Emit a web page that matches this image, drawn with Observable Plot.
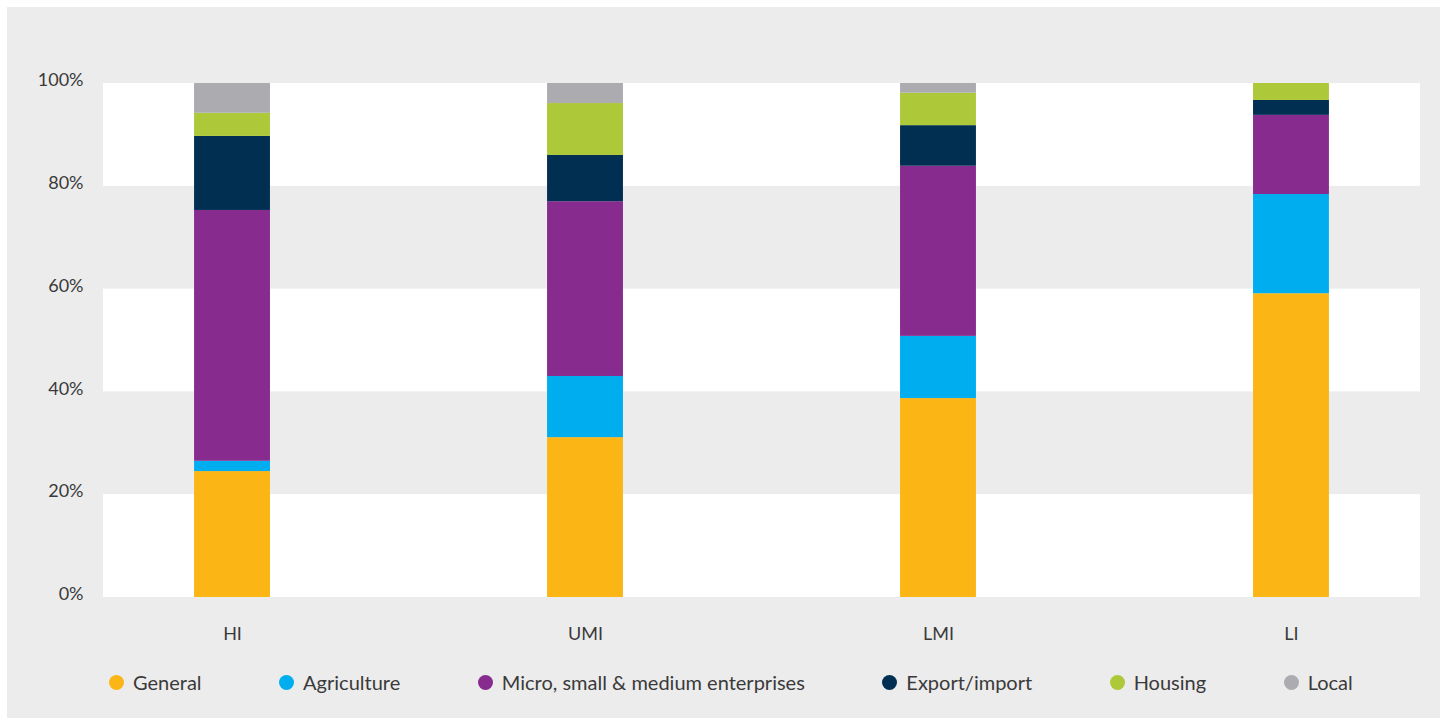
<!DOCTYPE html>
<html><head><meta charset="utf-8">
<script src="https://cdn.jsdelivr.net/npm/d3@7"></script>
<script src="https://cdn.jsdelivr.net/npm/@observablehq/plot@0.6"></script>
<style>
body{margin:0;background:#fff;font-family:Lato,"Open Sans",sans-serif;}
#frame{position:absolute;left:7px;top:7px;width:1433px;height:711px;background:#ececec;overflow:hidden;}
#chart{position:absolute;left:0;top:0;}
#legend{position:absolute;left:102px;top:663px;display:flex;align-items:center;gap:77.5px;color:#3a3a3a;font-size:20px;white-space:nowrap;}
.item{display:flex;align-items:center;}
.dot{width:15px;height:15px;border-radius:50%;margin-right:9px;}
</style></head>
<body>
<div id="frame"><div id="chart"></div><div id="legend"></div></div>
<script>
const categories = ["HI", "UMI", "LMI", "LI"];
const series = ["General", "Agriculture", "Micro, small & medium enterprises", "Export/import", "Housing", "Local"];
const colors = ["#fbb616", "#00aeef", "#872b8e", "#002f52", "#adc93a", "#acacb0"];
const general = [24.5, 31.1, 38.7, 59.1];
const agriculture = [2.0, 11.9, 12.1, 19.3];
const msme = [48.8, 34.0, 33.1, 15.4];
const exportImport = [14.4, 9.0, 7.9, 2.9];
const housing = [4.5, 10.1, 6.3, 3.3];
const local = [5.8, 3.9, 1.9, 0];
const yTicks = [0, 20, 40, 60, 80, 100];
const whiteBands = [[0, 20], [40, 60], [80, 100]];

const seriesValues = [general, agriculture, msme, exportImport, housing, local];
const rows = [];
categories.forEach((c, i) => {
  series.forEach((s, j) => rows.push({cat: c, series: s, value: seriesValues[j][i]}));
});

const chart = Plot.plot({
  width: 1433,
  height: 640,
  marginLeft: 96,
  marginRight: 20,
  marginTop: 76,
  marginBottom: 50,
  style: {background: "transparent", fontSize: "18px", fontFamily: "Lato, 'Open Sans', sans-serif", color: "#3a3a3a"},
  x: {domain: categories, paddingInner: 0.785, paddingOuter: 0.258, round: false, label: null},
  y: {domain: [0, 100], label: null},
  color: {domain: series, range: colors},
  marks: [
    Plot.rect(whiteBands, {y1: d => d[0], y2: d => d[1], fill: "white"}),
    Plot.barY(rows, {x: "cat", y: "value", fill: "series", order: series}),
    Plot.axisY({ticks: yTicks, tickFormat: d => d + "%", tickSize: 0, tickPadding: 20, dy: -3, label: null}),
    Plot.axisX({tickSize: 0, tickPadding: 30, label: null})
  ]
});
document.getElementById("chart").appendChild(chart);

const legend = document.getElementById("legend");
series.forEach((s, j) => {
  const it = document.createElement("div");
  it.className = "item";
  const dot = document.createElement("span");
  dot.className = "dot";
  dot.style.background = colors[j];
  const t = document.createElement("span");
  t.textContent = s;
  it.appendChild(dot); it.appendChild(t);
  legend.appendChild(it);
});
</script>
</body></html>
